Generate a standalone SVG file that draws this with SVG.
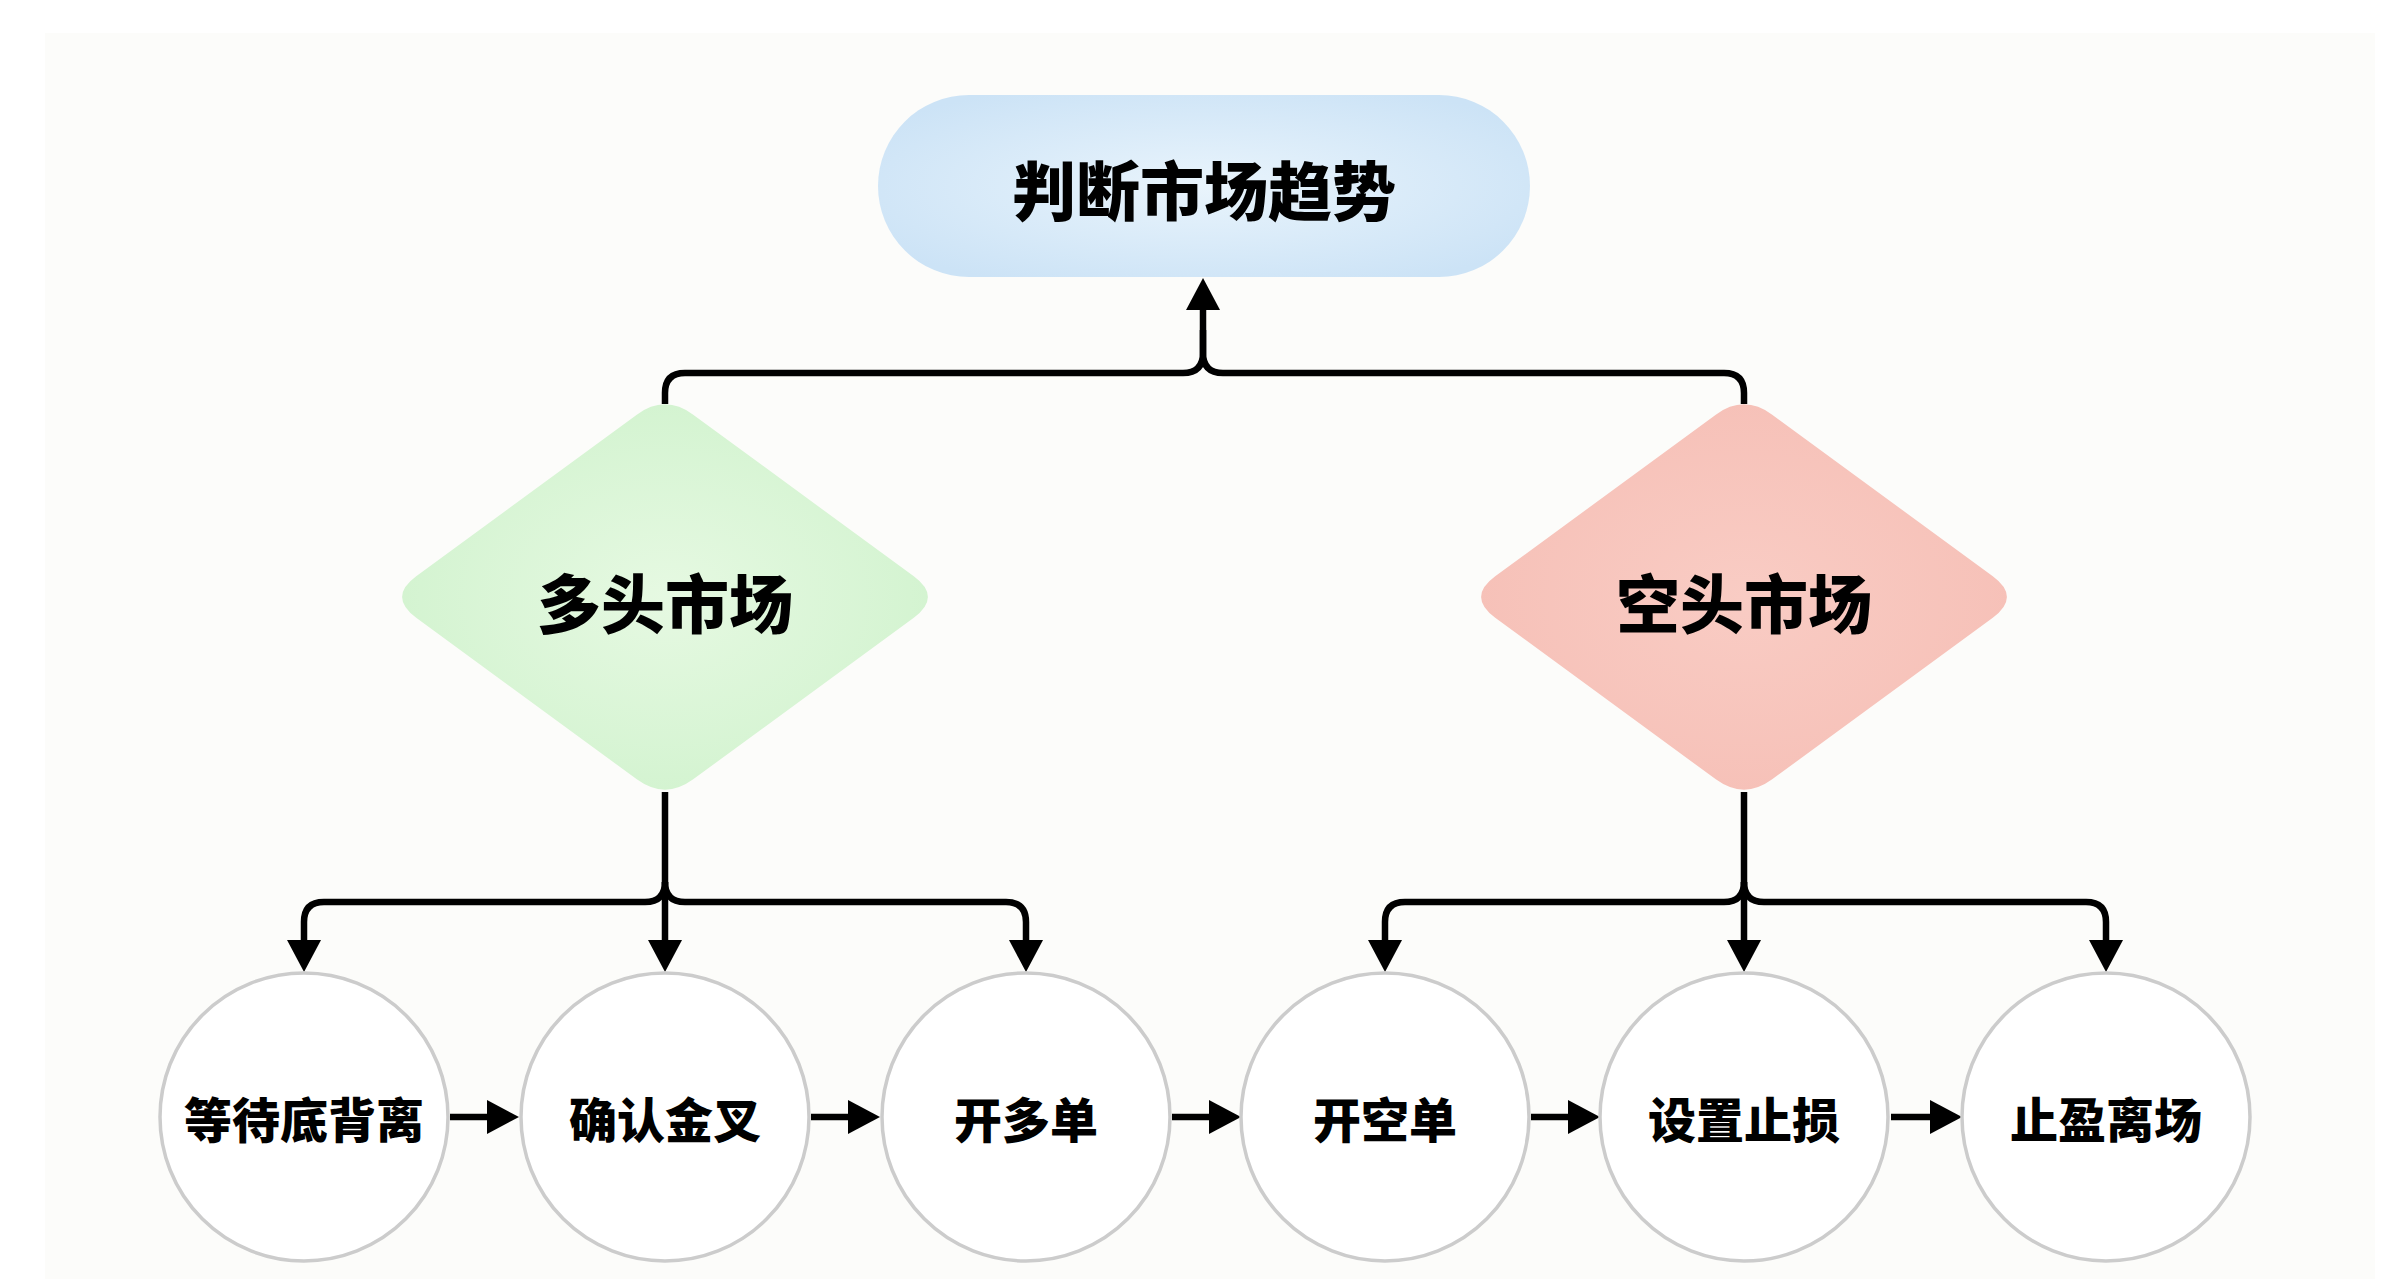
<svg xmlns="http://www.w3.org/2000/svg" width="2408" height="1279" viewBox="0 0 2408 1279">
  <defs>
    <radialGradient id="gBlue" cx="50%" cy="50%" r="60%">
      <stop offset="0" stop-color="#e9f4fc"/>
      <stop offset="1" stop-color="#cce3f6"/>
    </radialGradient>
    <radialGradient id="gGreen" cx="50%" cy="50%" r="55%">
      <stop offset="0" stop-color="#e6f9e2"/>
      <stop offset="1" stop-color="#d2f3cf"/>
    </radialGradient>
    <radialGradient id="gRed" cx="50%" cy="50%" r="55%">
      <stop offset="0" stop-color="#f9ccc4"/>
      <stop offset="1" stop-color="#f6c0b7"/>
    </radialGradient>
    <marker id="arrow" viewBox="0 0 32 34" refX="12" refY="17" markerWidth="32" markerHeight="34" markerUnits="userSpaceOnUse" orient="auto">
      <path d="M0,0 L32,17 L0,34 Z" fill="#000"/>
    </marker>
  </defs>
  <style>
    .lbl { font-family: "Noto Sans CJK SC", "Noto Sans", sans-serif; font-weight: 900; fill: #000; text-anchor: middle; dominant-baseline: central; }
    .big { font-size: 64px; }
    .small { font-size: 48px; }
    .step { fill: #ffffff; stroke: #cccccc; stroke-width: 3.5; }
    .conn { fill: none; stroke: #000; stroke-width: 6.5; stroke-linejoin: round; }
    .arr { marker-end: url(#arrow); }
  </style>

  <rect x="0" y="0" width="2408" height="1279" fill="#ffffff"/>
  <rect x="45" y="33" width="2330" height="1246" fill="#fcfcfa"/>

  <g id="connectors">
    <!-- top: diamonds to trend -->
    <path class="conn" d="M665 404 V393 Q665 373 685 373 H1183 Q1203 373 1203 353 V330"/>
    <path class="conn arr" d="M1744 404 V393 Q1744 373 1724 373 H1223 Q1203 373 1203 353 V298"/>
    <!-- left diamond to circles -->
    <path class="conn arr" d="M665 792 V952"/>
    <path class="conn arr" d="M665 882 Q665 902 645 902 H324 Q304 902 304 922 V952"/>
    <path class="conn arr" d="M665 882 Q665 902 685 902 H1006 Q1026 902 1026 922 V952"/>
    <!-- right diamond to circles -->
    <path class="conn arr" d="M1744 792 V952"/>
    <path class="conn arr" d="M1744 882 Q1744 902 1724 902 H1405 Q1385 902 1385 922 V952"/>
    <path class="conn arr" d="M1744 882 Q1744 902 1764 902 H2086 Q2106 902 2106 922 V952"/>
    <!-- horizontal chain -->
    <path class="conn arr" d="M450 1117 H499"/>
    <path class="conn arr" d="M811 1117 H860"/>
    <path class="conn arr" d="M1172 1117 H1221"/>
    <path class="conn arr" d="M1531 1117 H1580"/>
    <path class="conn arr" d="M1891 1117 H1942"/>
  </g>

  <g id="node-trend">
    <rect x="878" y="95" width="652" height="182" rx="91" ry="91" fill="url(#gBlue)"/>
    <text class="lbl big" x="1204" y="187">判断市场趋势</text>
  </g>

  <g id="node-bull">
    <path fill="url(#gGreen)" d="M636.8 414.7 Q665 394 693.2 414.7 L913.8 576.3 Q942 597 913.8 617.7 L693.2 779.3 Q665 800 636.8 779.3 L416.2 617.7 Q388 597 416.2 576.3 Z"/>
    <text class="lbl big" x="665" y="600">多头市场</text>
  </g>

  <g id="node-bear">
    <path fill="url(#gRed)" d="M1715.8 414.7 Q1744 394 1772.2 414.7 L1992.8 576.3 Q2021 597 1992.8 617.7 L1772.2 779.3 Q1744 800 1715.8 779.3 L1495.2 617.7 Q1467 597 1495.2 576.3 Z"/>
    <text class="lbl big" x="1744" y="600">空头市场</text>
  </g>

  <g id="node-wait">
    <circle class="step" cx="304" cy="1117" r="144"/>
    <text class="lbl small" x="304" y="1117">等待底背离</text>
  </g>
  <g id="node-confirm">
    <circle class="step" cx="665" cy="1117" r="144"/>
    <text class="lbl small" x="665" y="1117">确认金叉</text>
  </g>
  <g id="node-long">
    <circle class="step" cx="1026" cy="1117" r="144"/>
    <text class="lbl small" x="1026" y="1117">开多单</text>
  </g>
  <g id="node-short">
    <circle class="step" cx="1385" cy="1117" r="144"/>
    <text class="lbl small" x="1385" y="1117">开空单</text>
  </g>
  <g id="node-stop">
    <circle class="step" cx="1744" cy="1117" r="144"/>
    <text class="lbl small" x="1744" y="1117">设置止损</text>
  </g>
  <g id="node-exit">
    <circle class="step" cx="2106" cy="1117" r="144"/>
    <text class="lbl small" x="2106" y="1117">止盈离场</text>
  </g>
</svg>
